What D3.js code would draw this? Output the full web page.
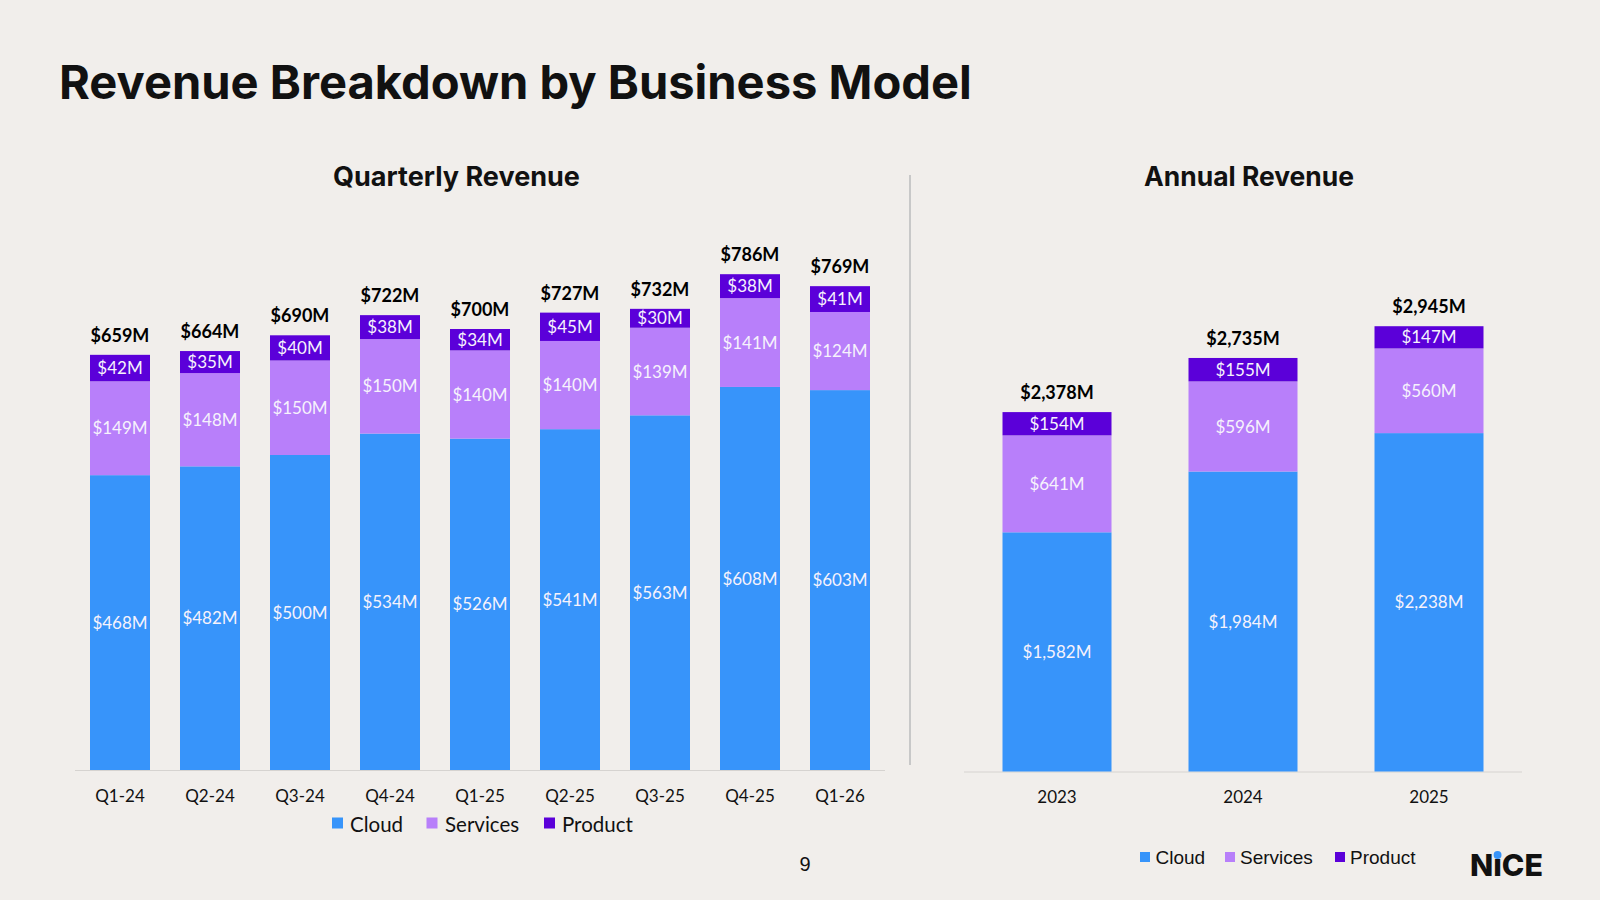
<!DOCTYPE html>
<html><head><meta charset="utf-8">
<script src="https://cdn.jsdelivr.net/npm/d3@7"></script>
<style>body{margin:0;background:#f1eeeb;} svg{display:block}</style>
</head><body>
<svg id="c" width="1600" height="900"></svg>
<script>
// ---------- data ----------
const quarters = ["Q1-24","Q2-24","Q3-24","Q4-24","Q1-25","Q2-25","Q3-25","Q4-25","Q1-26"];
const qCloud    = [468,482,500,534,526,541,563,608,603];
const qServices = [149,148,150,150,140,140,139,141,124];
const qProduct  = [42,35,40,38,34,45,30,38,41];
const qTotals   = [659,664,690,722,700,727,732,786,769];

const years     = ["2023","2024","2025"];
const aCloud    = [1582,1984,2238];
const aServices = [641,596,560];
const aProduct  = [154,155,147];
const aTotals   = [2378,2735,2945];

const seriesNames = ["Cloud","Services","Product"];
const seriesColors = ["#3794fa","#b87ffa","#5b00d9"];

// ---------- setup ----------
const svg = d3.select("#c");
svg.append("rect").attr("width",1600).attr("height",900).attr("fill","#f1eeeb");
const fmt = v => "$" + d3.format(",")(v) + "M";
const labelFont = "Lato, 'Open Sans', sans-serif";

function fitText(sel, width) {
  const node = sel.node();
  const fs = parseFloat(sel.attr("font-size"));
  const w = node.getComputedTextLength();
  sel.attr("font-size", fs * width / w);
}

// titles
const t = svg.append("text").attr("x",59).attr("y",99)
  .attr("font-family","Inter, sans-serif").attr("font-weight",700).attr("font-size",50)
  .attr("fill","#111").text("Revenue Breakdown by Business Model");
fitText(t, 913);

const st1 = svg.append("text").attr("x",456.5).attr("y",185.5).attr("text-anchor","middle")
  .attr("font-family","Inter, sans-serif").attr("font-weight",700).attr("font-size",25)
  .attr("fill","#111").text("Quarterly Revenue");
fitText(st1, 247);
const st2 = svg.append("text").attr("x",1249).attr("y",185.5).attr("text-anchor","middle")
  .attr("font-family","Inter, sans-serif").attr("font-weight",700).attr("font-size",25)
  .attr("fill","#111").text("Annual Revenue");
fitText(st2, 210);

// separator
svg.append("line").attr("x1",910).attr("x2",910).attr("y1",175).attr("y2",765)
  .attr("stroke","#c8c8c8").attr("stroke-width",2);

function panel(cats, cloud, services, product, totals, opt) {
  const rows = cats.map((c,i)=>({cat:c, Cloud:cloud[i], Services:services[i], Product:product[i], total:totals[i]}));
  const stack = d3.stack().keys(seriesNames)(rows);
  const x = d3.scaleBand().domain(cats).range([opt.x0,opt.x1])
    .paddingInner(opt.pi).paddingOuter(opt.pi/2);
  const y = d3.scaleLinear().domain([0,opt.ymax]).range([opt.base, opt.base - opt.ymax*opt.ppu]);
  const g = svg.append("g");

  // axis baseline
  g.append("line").attr("x1",opt.x0).attr("x2",opt.x1).attr("y1",opt.base+0.5).attr("y2",opt.base+0.5)
    .attr("stroke","#d6d3d0").attr("stroke-width",1);

  stack.forEach((s,si)=>{
    const sg = g.append("g");
    sg.selectAll("rect").data(s).join("rect")
      .attr("x",d=>x(d.data.cat)).attr("width",x.bandwidth())
      .attr("y",d=>y(d[1])).attr("height",d=>y(d[0])-y(d[1]))
      .attr("fill",seriesColors[si]);
    sg.selectAll("text").data(s).join("text")
      .attr("x",d=>x(d.data.cat)+x.bandwidth()/2)
      .attr("y",d=>(y(d[0])+y(d[1]))/2).attr("dy","0.36em")
      .attr("text-anchor","middle").attr("font-family",labelFont).attr("font-size",opt.segFs)
      .attr("fill","#f6f2fc").text(d=>fmt(d.data[seriesNames[si]]));
  });

  const top = stack[stack.length-1];
  g.selectAll("text.tot").data(top).join("text").attr("class","tot")
    .attr("x",d=>x(d.data.cat)+x.bandwidth()/2).attr("y",d=>y(d[1])-13)
    .attr("text-anchor","middle").attr("font-family",labelFont).attr("font-weight",700)
    .attr("font-size",18).attr("fill","#000").text(d=>fmt(d.data.total));

  const ax = d3.axisBottom(x).tickSize(0).tickPadding(0);
  const axg = g.append("g").attr("transform",`translate(0,${opt.catY})`).call(ax);
  axg.select(".domain").remove();
  axg.selectAll("text").attr("font-family",labelFont).attr("font-size",17).attr("fill","#111")
    .attr("dy","0.36em");
}

panel(quarters,qCloud,qServices,qProduct,qTotals,
  {x0:75,x1:885,pi:1/3,ymax:1000,ppu:0.63,base:770,catY:796,segFs:17});
panel(years,aCloud,aServices,aProduct,aTotals,
  {x0:964,x1:1522,pi:0.414,ymax:4000,ppu:0.1512,base:771.5,catY:797,segFs:17});

// legends
function legend(items, opt) {
  const g = svg.append("g");
  items.forEach((name,i)=>{
    g.append("rect").attr("x",opt.sq[i]).attr("y",opt.sqY).attr("width",opt.sqS).attr("height",opt.sqS)
      .attr("fill",seriesColors[i]);
    g.append("text").attr("x",opt.tx[i]).attr("y",opt.ty).attr("font-family",opt.font)
      .attr("font-size",opt.fs).attr("fill","#111").text(name);
  });
}
legend(seriesNames,{sq:[332,426.5,544],tx:[350,445,562],sqY:817.5,sqS:11,ty:831.5,font:labelFont,fs:20.5});
legend(seriesNames,{sq:[1140,1225,1335],tx:[1155.5,1240,1350],sqY:852,sqS:10,ty:864,font:"'Liberation Sans', Arial, sans-serif",fs:19});

// page number
svg.append("text").attr("x",805).attr("y",871).attr("text-anchor","middle")
  .attr("font-family","'Liberation Sans', Arial, sans-serif").attr("font-size",20).attr("fill","#111").text("9");

// logo
const logo = svg.append("text").attr("x",1470).attr("y",876)
  .attr("font-family","Inter, sans-serif").attr("font-weight",800).attr("font-size",34)
  .attr("fill","#111").text("NiCE");
fitText(logo, 73);
const lfs = parseFloat(logo.attr("font-size"));
const n = logo.node();
const s = n.getStartPositionOfChar(1), e = n.getEndPositionOfChar(1);
svg.append("circle").attr("cx",(s.x+e.x)/2).attr("cy",876 - 0.69*lfs).attr("r",0.13*lfs).attr("fill","#3794fa");
</script>
</body></html>
